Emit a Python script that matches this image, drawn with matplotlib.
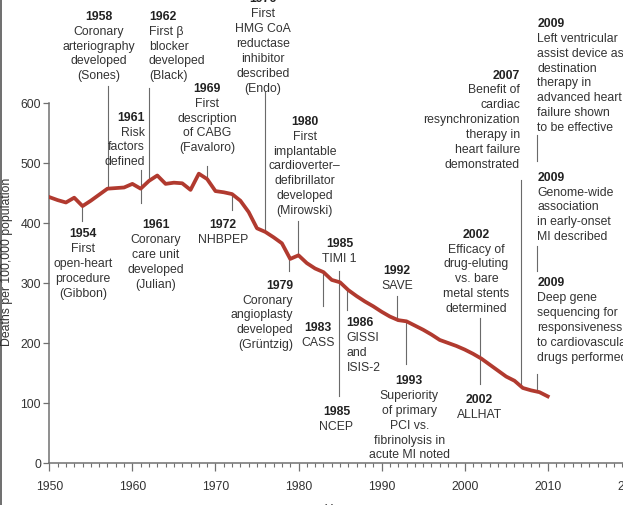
import numpy as np
import matplotlib.pyplot as plt
from matplotlib.lines import Line2D

plt.rcParams['font.family'] = ['Liberation Sans', 'DejaVu Sans']

# coronary heart disease deaths per 100,000 population
years = list(range(1950, 2011))
deaths = [443, 438, 434, 442, 428, 437, 447, 457, 458, 459,
          465, 457, 470, 479, 465, 467, 466, 455, 482, 473,
          453, 451, 448, 437, 418, 391, 385, 376, 366, 340,
          346, 333, 324, 318, 305, 301, 288, 278, 269, 261,
          252, 244, 238, 236, 229, 222, 214, 205, 200, 195,
          189, 182, 174, 164, 154, 144, 137, 125, 121, 118,
          111]

note_years = ['1954', '1958', '1962', '1961', '1961', '1969', '1976', '1980',
              '1972', '1979', '1983', '1985', '1985', '1986', '1992', '1993',
              '2002', '2002', '2007', '2009', '2009', '2009']
note_texts = [
    'First\nopen-heart\nprocedure\n(Gibbon)',
    'Coronary\narteriography\ndeveloped\n(Sones)',
    'First β\nblocker\ndeveloped\n(Black)',
    'Risk\nfactors\ndefined',
    'Coronary\ncare unit\ndeveloped\n(Julian)',
    'First\ndescription\nof CABG\n(Favaloro)',
    'First\nHMG CoA\nreductase\ninhibitor\ndescribed\n(Endo)',
    'First\nimplantable\ncardioverter–\ndefibrillator\ndeveloped\n(Mirowski)',
    'NHBPEP',
    'Coronary\nangioplasty\ndeveloped\n(Grüntzig)',
    'CASS',
    'TIMI 1',
    'NCEP',
    'GISSI\nand\nISIS-2',
    'SAVE',
    'Superiority\nof primary\nPCI vs.\nfibrinolysis in\nacute MI noted',
    'Efficacy of\ndrug-eluting\nvs. bare\nmetal stents\ndetermined',
    'ALLHAT',
    'Benefit of\ncardiac\nresynchronization\ntherapy in\nheart failure\ndemonstrated',
    'Left ventricular\nassist device as\ndestination\ntherapy in\nadvanced heart\nfailure shown\nto be effective',
    'Genome-wide\nassociation\nin early-onset\nMI described',
    'Deep gene\nsequencing for\nresponsiveness\nto cardiovascular\ndrugs performed',
]

# layout of the labels: x, alignment, baseline of the year line
note_pos = [
    (1954.06, 'center', 378), (1955.98, 'center', 740), (1962.0, 'left', 740),
    (1961.52, 'right', 572), (1962.84, 'center', 393), (1968.98, 'center', 620),
    (1975.72, 'center', 769), (1980.74, 'center', 565), (1970.91, 'center', 393),
    (1979.33, 'right', 292), (1982.38, 'center', 222), (1984.93, 'center', 362),
    (1984.57, 'center', 82), (1985.8, 'left', 230), (1991.86, 'center', 317),
    (1993.34, 'center', 133), (2001.43, 'center', 377), (2001.8, 'center', 102),
    (2006.67, 'right', 642), (2008.75, 'left', 728), (2008.75, 'left', 472),
    (2008.75, 'left', 296),
]

# leader lines: x, top, bottom (None = on the curve)
leaders = [
    (1953.97, 403, None), (1957.03, 628, None), (1962.04, 625, None),
    (1961.04, 488, 433), (1969.02, 495, None), (1975.97, 618, None),
    (1979.9, 403, None), (1971.96, None, 422), (1978.89, None, 320),
    (1982.91, None, 262), (1984.91, 320, 112), (1985.87, None, 255),
    (1991.86, 278, None), (1992.94, None, 165), (2001.8, 242, 132),
    (2006.75, 472, None), (2008.75, 547, 503), (2008.75, 362, 320),
    (2008.75, 148, None),
]

fig = plt.figure(figsize=(6.23, 5.06), dpi=100)
ax = fig.add_axes([49.3 / 623, 42 / 506, 581.5 / 623, 464 / 506])
ax.set_xlim(1950, 2020)
ax.set_ylim(0, 773)

for x, top, bot in leaders:
    on_curve = np.interp(x, years, deaths)
    y0 = on_curve if top is None else top
    y1 = on_curve if bot is None else bot
    ax.plot([x, x], [y0, y1], color='#6a6a6a', lw=0.8, zorder=1)

ax.plot(years, deaths, color='#b13a2f', lw=2.7, solid_joinstyle='round', zorder=3)

step = 24.75
for yr, body, (x, ha, y) in zip(note_years, note_texts, note_pos):
    ax.text(x, y, yr, ha=ha, va='baseline', fontsize=8.8, fontweight='bold',
            color='#222222', clip_on=False)
    for i, line in enumerate(body.split('\n')):
        ax.text(x, y - (i + 1) * step, line, ha=ha, va='baseline', fontsize=8.8,
                color='#333333', clip_on=False)

for s in ['top', 'right']:
    ax.spines[s].set_visible(False)
ax.spines['left'].set_bounds(0, 600)
for s in ['left', 'bottom']:
    ax.spines[s].set_color('#707070')
    ax.spines[s].set_linewidth(1.1)

ax.set_yticks(range(0, 601, 100))
ax.set_xticks(range(1950, 2021, 10))
ax.set_xticks(range(1950, 2021), minor=True)
ax.tick_params(axis='both', which='major', direction='out', color='#707070',
               labelsize=8.8, labelcolor='#333333', width=0.9)
ax.tick_params(axis='x', which='major', length=6, pad=6)
ax.tick_params(axis='y', which='major', length=4, pad=2)
ax.tick_params(axis='x', which='minor', direction='out', color='#707070',
               length=3, width=0.8)

fig.text(7 / 623, 1 - 262 / 506, 'Deaths per 100,000 population', rotation=90,
         ha='center', va='center', fontsize=8.8, color='#333333')
fig.text(337 / 623, -0.008, 'Year', ha='center', va='center', fontsize=8.8,
         color='#333333')
fig.add_artist(Line2D([0.0015, 0.0015], [0, 1], color='#555555', lw=1.2))

fig.savefig('out.png', dpi=100)
